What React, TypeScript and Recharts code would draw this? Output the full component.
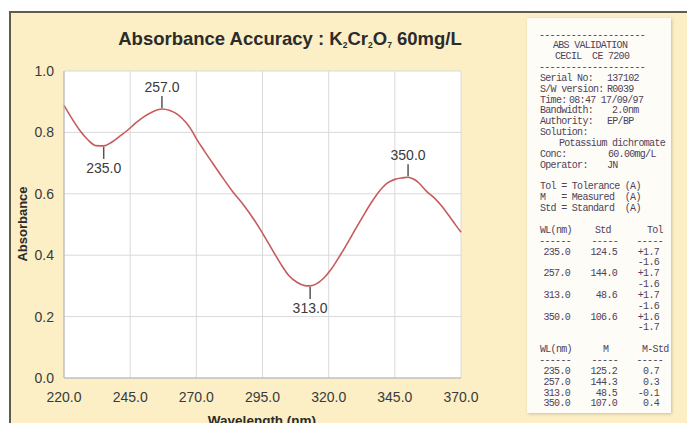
import React from "react";
import { LineChart, Line, XAxis, YAxis, CartesianGrid, ReferenceDot } from "recharts";

// spectrum
const wavelengths = [
  220, 223, 226, 229, 232, 235, 238, 241, 244, 247, 250, 253, 257, 260, 263, 266, 268, 270,
  273, 276, 280, 284, 288, 292, 295, 299, 302, 305, 308, 311, 313, 315, 318, 321, 324, 327,
  330, 333, 336, 339, 342, 345, 348, 350, 352, 354, 357, 360, 363, 366, 368, 370,
];
const absorbance = [
  0.888, 0.845, 0.806, 0.776, 0.757, 0.756, 0.768, 0.787, 0.807, 0.83, 0.85, 0.865, 0.876,
  0.871, 0.858, 0.833, 0.81, 0.78, 0.74, 0.702, 0.652, 0.604, 0.562, 0.513, 0.472, 0.413,
  0.37, 0.333, 0.312, 0.301, 0.3, 0.305, 0.324, 0.355, 0.395, 0.438, 0.483, 0.527, 0.57,
  0.607, 0.634, 0.647, 0.652, 0.654, 0.648, 0.636, 0.608, 0.586, 0.557, 0.522, 0.498, 0.475,
];
const xTicks = [220, 245, 270, 295, 320, 345, 370];
const yTicks = [0, 0.2, 0.4, 0.6, 0.8, 1.0];

const peakWavelengths = [235, 257, 313, 350];
const peakAbove = [false, true, false, true];

// printout values
const stdValues = ["124.5", "144.0", "48.6", "106.6"];
const tolPlus = ["+1.7", "+1.7", "+1.7", "+1.6"];
const tolMinus = ["-1.6", "-1.6", "-1.6", "-1.7"];
const measuredValues = ["125.2", "144.3", "48.5", "107.0"];
const diffValues = ["0.7", "0.3", "-0.1", "0.4"];

const data = wavelengths.map((wl, i) => ({ wl, abs: absorbance[i] }));

const FONT = "'Liberation Sans', Arial, sans-serif";
const MONO = "'Liberation Mono', 'DejaVu Sans Mono', monospace";
const CREAM = "#fcefc6";

function PeakMark(props: any) {
  const { cx, cy, above, text } = props;
  const s = above ? -1 : 1;
  const end = cy + s * 13;
  const ty = above ? end - 4 : end + 14;
  return (
    <g>
      <line x1={cx} y1={cy + s} x2={cx} y2={end} stroke="#555" strokeWidth={1.5} />
      <text x={cx} y={ty} textAnchor="middle" fontSize={14} fontFamily={FONT} fill="#3a3a3a">
        {text}
      </text>
    </g>
  );
}

type Seg = { t: string; x: number; end?: boolean };

function buildReceipt(): { row: number; segs: Seg[] }[] {
  const dash = "--------------------";
  const under: Seg[] = [
    { t: "------", x: 571, end: true },
    { t: "-----", x: 618, end: true },
    { t: "-----", x: 663, end: true },
  ];
  const rows: { row: number; segs: Seg[] }[] = [
    { row: 0, segs: [{ t: dash, x: 539 }] },
    { row: 1, segs: [{ t: "ABS VALIDATION", x: 553 }] },
    { row: 2, segs: [{ t: "CECIL  CE 7200", x: 555 }] },
    { row: 3, segs: [{ t: dash, x: 539 }] },
    { row: 4, segs: [{ t: "Serial No:", x: 540 }, { t: "137102", x: 607 }] },
    { row: 5, segs: [{ t: "S/W version:", x: 540 }, { t: "R0039", x: 607 }] },
    { row: 6, segs: [{ t: "Time:", x: 540 }, { t: "08:47 17/09/97", x: 569 }] },
    { row: 7, segs: [{ t: "Bandwidth:", x: 540 }, { t: "2.0nm", x: 612 }] },
    { row: 8, segs: [{ t: "Authority:", x: 540 }, { t: "EP/BP", x: 607 }] },
    { row: 9, segs: [{ t: "Solution:", x: 540 }] },
    { row: 10, segs: [{ t: "Potassium dichromate", x: 559 }] },
    { row: 11, segs: [{ t: "Conc:", x: 540 }, { t: "60.00mg/L", x: 608 }] },
    { row: 12, segs: [{ t: "Operator:", x: 540 }, { t: "JN", x: 607 }] },
    { row: 14, segs: [{ t: "Tol = Tolerance (A)", x: 540 }] },
    { row: 15, segs: [{ t: "M   = Measured  (A)", x: 540 }] },
    { row: 16, segs: [{ t: "Std = Standard  (A)", x: 540 }] },
    { row: 18, segs: [{ t: "WL(nm)", x: 540 }, { t: "Std", x: 595 }, { t: "Tol", x: 647 }] },
    { row: 19, segs: under },
  ];
  peakWavelengths.forEach((wl, i) => {
    rows.push({
      row: 20 + i * 2,
      segs: [
        { t: wl.toFixed(1), x: 570, end: true },
        { t: stdValues[i], x: 617, end: true },
        { t: tolPlus[i], x: 659, end: true },
      ],
    });
    rows.push({ row: 21 + i * 2, segs: [{ t: tolMinus[i], x: 659, end: true }] });
  });
  rows.push({ row: 29, segs: [{ t: "WL(nm)", x: 540 }, { t: "M", x: 603 }, { t: "M-Std", x: 642 }] });
  rows.push({ row: 30, segs: under });
  peakWavelengths.forEach((wl, i) => {
    rows.push({
      row: 31 + i,
      segs: [
        { t: wl.toFixed(1), x: 570, end: true },
        { t: measuredValues[i], x: 617, end: true },
        { t: diffValues[i], x: 659, end: true },
      ],
    });
  });
  return rows;
}

export default function App() {
  const receipt = buildReceipt();
  return (
    <div style={{ position: "absolute", left: 0, top: 0, width: 687, height: 423, background: "#fff", overflow: "hidden" }}>
      {/* frame */}
      <div style={{ position: "absolute", left: 10, top: 13, right: 0, bottom: 0, background: CREAM }} />
      <div style={{ position: "absolute", left: 9, top: 11, right: 0, height: 2, background: "#5f5d4c" }} />
      <div style={{ position: "absolute", left: 9, top: 11, width: 2, bottom: 0, background: "#5f5d4c" }} />
      {/* printout */}
      <div
        style={{
          position: "absolute", left: 527, top: 18, width: 144, height: 395,
          background: "#fdfcf7", boxShadow: "1px 1px 3px rgba(120,100,60,0.35)",
        }}
      />
      <div style={{ position: "absolute", left: 0, top: 0 }}>
        <LineChart width={687} height={423} data={data} margin={{ top: 71, right: 226, bottom: 15, left: 14 }}>
          <CartesianGrid stroke="#d9d9d9" fill="#ffffff" />
          <XAxis
            dataKey="wl"
            type="number"
            domain={[220, 370]}
            ticks={xTicks}
            tickFormatter={(v: number) => v.toFixed(1)}
            height={30}
            tickSize={0}
            tickMargin={14}
            stroke="#b3b3b3"
            tick={{ fontSize: 14, fill: "#3a3a3a", fontFamily: FONT }}
          />
          <YAxis
            type="number"
            domain={[0, 1]}
            ticks={yTicks}
            tickFormatter={(v: number) => v.toFixed(1)}
            width={50}
            tickSize={0}
            tickMargin={10}
            stroke="#b3b3b3"
            tick={{ fontSize: 14, fill: "#3a3a3a", fontFamily: FONT }}
          />
          <Line
            type="monotone"
            dataKey="abs"
            stroke="#c75b5b"
            strokeWidth={1.6}
            dot={false}
            isAnimationActive={false}
          />
          {peakWavelengths.map((wl, i) => (
            <ReferenceDot
              key={wl}
              x={wl}
              y={absorbance[wavelengths.indexOf(wl)]}
              r={0}
              ifOverflow="visible"
              shape={(p: any) => <PeakMark cx={p.cx} cy={p.cy} above={peakAbove[i]} text={wl.toFixed(1)} />}
            />
          ))}
        </LineChart>
      </div>
      <svg width={687} height={423} style={{ position: "absolute", left: 0, top: 0, pointerEvents: "none" }}>
        <text x={290} y={45} textAnchor="middle" fontFamily={FONT} fontWeight="bold" fontSize={18.5} fill="#2b2b2b">
          Absorbance Accuracy : K
          <tspan fontSize={8.5} dy={3}>2</tspan>
          <tspan dy={-3}>Cr</tspan>
          <tspan fontSize={8.5} dy={3}>2</tspan>
          <tspan dy={-3}>O</tspan>
          <tspan fontSize={8.5} dy={3}>7</tspan>
          <tspan dy={-3}> 60mg/L</tspan>
        </text>
        <text
          x={27}
          y={224}
          transform="rotate(-90 27 224)"
          textAnchor="middle"
          fontFamily={FONT}
          fontWeight="bold"
          fontSize={13}
          fill="#2b2b2b"
        >
          Absorbance
        </text>
        <text x={262} y={425} textAnchor="middle" fontFamily={FONT} fontWeight="bold" fontSize={13.5} fill="#2b2b2b">
          Wavelength (nm)
        </text>
        {receipt.map((r) =>
          r.segs.map((s, j) => (
            <text
              key={`${r.row}-${j}`}
              x={s.x}
              y={34 + r.row * 10.85 + 3.5}
              textAnchor={s.end ? "end" : "start"}
              fontFamily={MONO}
              fontSize={10}
              letterSpacing={-0.7}
              fill="#4f4259"
              style={{ whiteSpace: "pre" }}
            >
              {s.t}
            </text>
          ))
        )}
      </svg>
    </div>
  );
}
